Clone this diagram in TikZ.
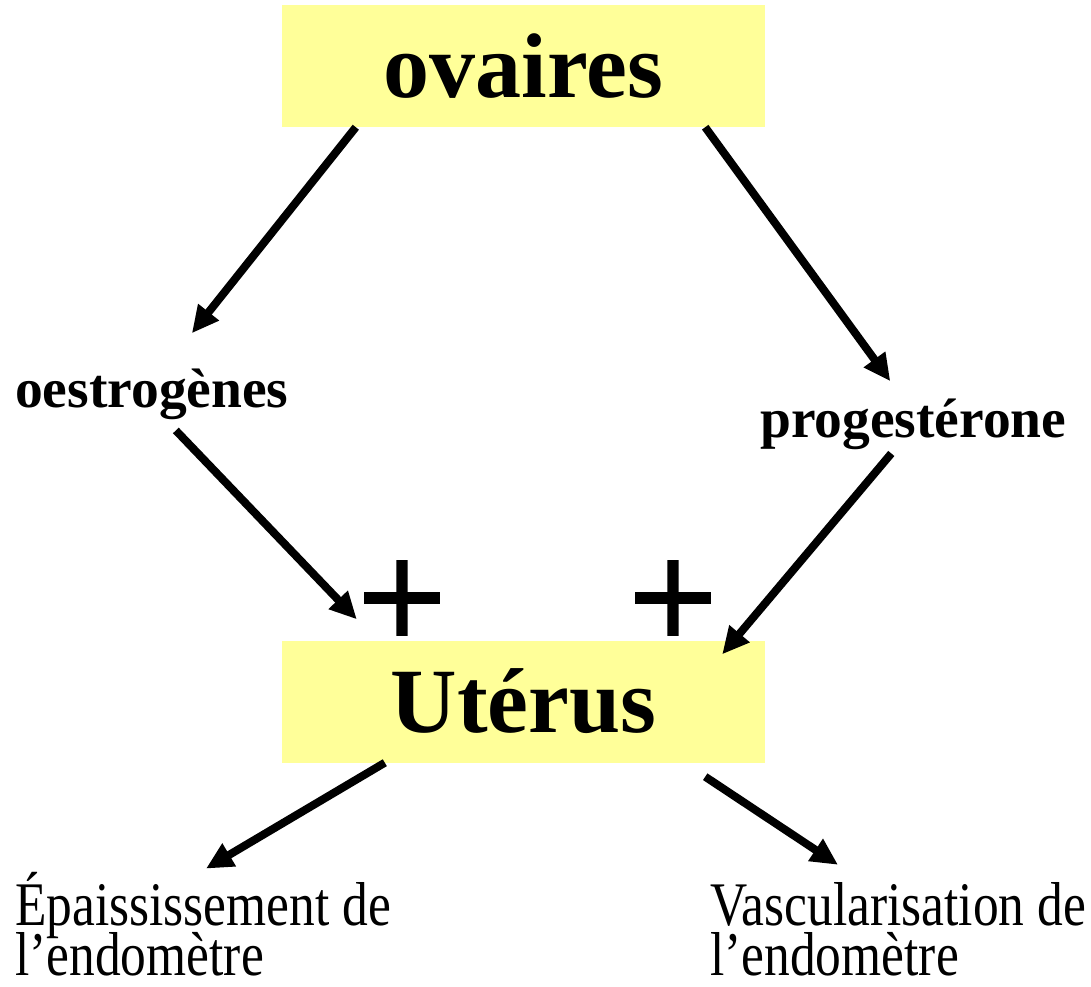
\documentclass[tikz,border=0pt]{standalone}
\usepackage{fontspec}
\setmainfont{Liberation Serif}
\newfontfamily\narrowserif[FakeStretch=0.83]{Liberation Serif}
\newfontfamily\plusfont[FakeBold=1.5]{DejaVu Sans}
\usepackage{xcolor}
\usetikzlibrary{arrows.meta,positioning,calc}
\definecolor{boxyellow}{RGB}{255,255,153}
\newcommand\tightlines{\setlength{\lineskiplimit}{-50pt}\setlength{\lineskip}{0pt}}

\begin{document}
\begin{tikzpicture}[x=1pt, y=-1pt, >={Triangle[length=27pt,width=25pt]}]
    \useasboundingbox (0,0) rectangle (1091,986);
    \tikzset{
        organ/.style={fill=boxyellow, minimum width=483pt, minimum height=122pt, inner sep=0pt,
            font=\bfseries\fontsize{92}{92}\selectfont},
        hormone/.style={inner sep=0pt, font=\bfseries\fontsize{55.5}{55.5}\selectfont},
        effect/.style={inner sep=0pt, align=left,
            font=\narrowserif\fontsize{62}{50}\selectfont\tightlines},
        plussign/.style={inner sep=0pt, font=\plusfont\fontsize{118}{118}\selectfont},
        arr/.style={->, line width=8pt}
    }

    % Organs
    \node[organ] (ovaires) at (523.5,66) {ovaires};
    \node[organ] (uterus) at (523.5,701.5) {Utérus};

    % Hormones
    \node[hormone, anchor=base west] (oestro) at (15,407) {oestrogènes};
    \node[hormone, anchor=base west] (proges) at (760,437) {progestérone};

    % Stimulation
    \node[plussign] (plusA) at (402,598) {+};
    \node[plussign] (plusB) at (673,598) {+};

    % Effects on the endometrium
    \node[effect, anchor=base west] (epais) at (15,975) {Épaississement de\\l’endomètre};
    \node[effect, anchor=base west] (vascu) at (710,975) {Vascularisation de\\l’endomètre};

    % Secretion
    \draw[arr] ([xshift=74pt]ovaires.south west) -- ([xshift=40pt,yshift=35pt]oestro.north);
    \draw[arr] ([xshift=-60pt]ovaires.south east) -- ([xshift=-23pt,yshift=17pt]proges.north);

    % Action on the uterus
    \draw[arr] ([xshift=24pt,yshift=-11pt]oestro.south) -- ([xshift=75pt,yshift=21pt]uterus.north west);
    \draw[arr] ([xshift=-22pt,yshift=-4pt]proges.south) -- ([xshift=-43pt,yshift=-14pt]uterus.north east);

    % Effects
    \draw[arr] ([xshift=103pt]uterus.south west) -- ([xshift=191pt,yshift=3pt]epais.north west);
    \draw[arr] ([xshift=-60pt,yshift=-14pt]uterus.south east) -- ([xshift=128pt,yshift=17pt]vascu.north west);

\end{tikzpicture}
\end{document}
